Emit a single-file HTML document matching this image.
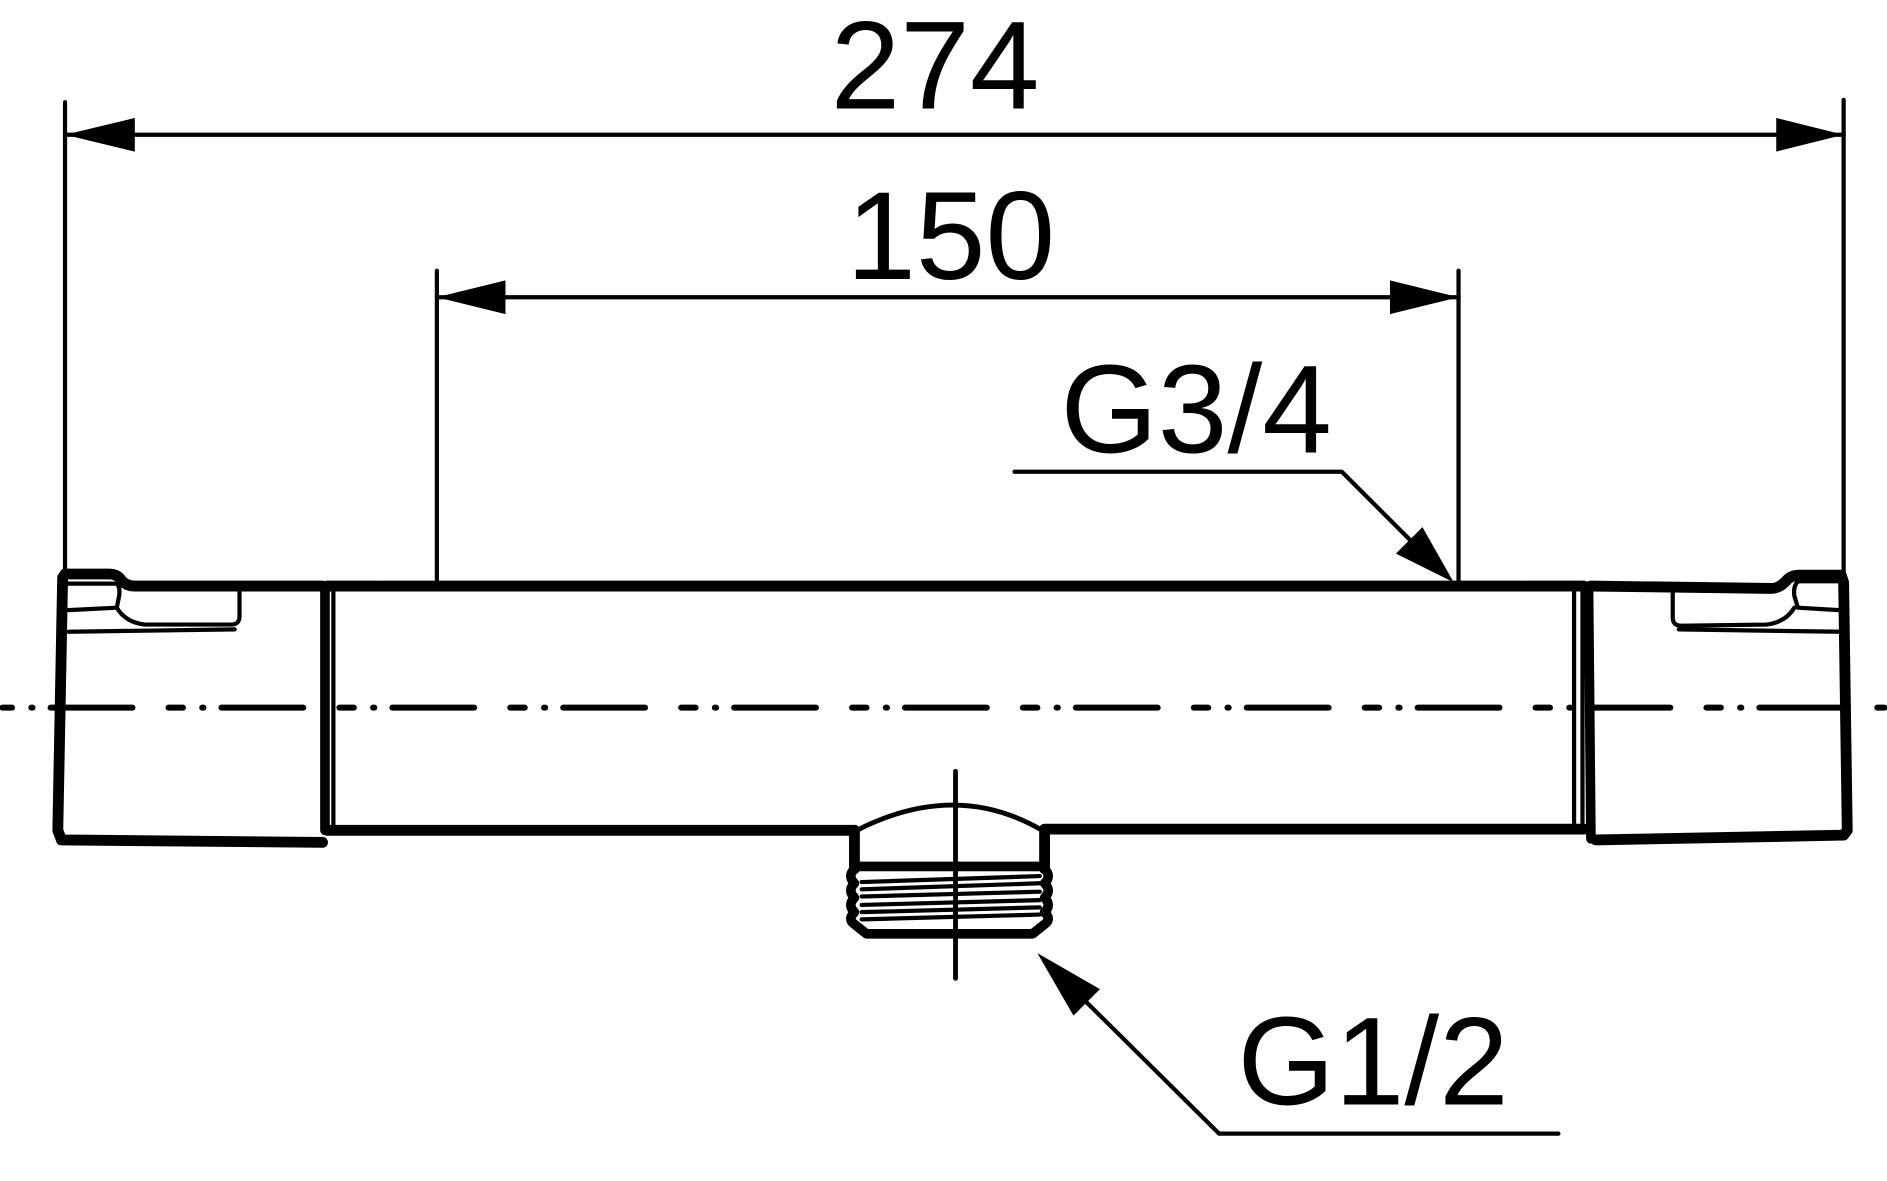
<!DOCTYPE html>
<html><head><meta charset="utf-8"><style>html,body{margin:0;padding:0;background:#fff}svg{display:block}</style></head>
<body>
<svg width="1887" height="1181" viewBox="0 0 1568 981.4" xmlns="http://www.w3.org/2000/svg" font-family="Liberation Sans, sans-serif">
<g stroke="#000" fill="none" stroke-linecap="round" stroke-linejoin="round">
<line x1="54" y1="85" x2="54" y2="478" stroke-width="3.5"/>
<line x1="1532" y1="83" x2="1532" y2="476" stroke-width="3.5"/>
<line x1="54" y1="112" x2="1532" y2="112" stroke-width="3.5"/>
<line x1="363" y1="225" x2="363" y2="486" stroke-width="3.5"/>
<line x1="1212" y1="225" x2="1212" y2="486" stroke-width="3.5"/>
<line x1="363" y1="247" x2="1212" y2="247" stroke-width="3.5"/>
<polyline points="843,392 1115,392 1185,462" stroke-width="3.5"/>
<polyline points="1295,942 1013,942 902,832" stroke-width="3.5"/>
<line x1="2" y1="588" x2="1566" y2="588" stroke-width="5" stroke-dasharray="68 30 12 16 1 15" stroke-dashoffset="-40"/>
<line x1="794" y1="641" x2="794" y2="813" stroke-width="4"/>
<line x1="272" y1="487" x2="1316" y2="487" stroke-width="9"/>
<line x1="272" y1="690" x2="710" y2="690" stroke-width="9"/>
<line x1="868" y1="689" x2="1316" y2="689" stroke-width="9"/>
<line x1="270" y1="487" x2="270" y2="690" stroke-width="8"/>
<line x1="277" y1="490" x2="277" y2="686" stroke-width="3.5"/>
<line x1="1308" y1="490" x2="1308" y2="686" stroke-width="3.5"/>
<line x1="1315" y1="487" x2="1315" y2="690" stroke-width="3.5"/>
<line x1="1320" y1="487" x2="1322" y2="697" stroke-width="8"/>
<path d="M268,487 L112,487 Q104,487 100,481 Q97,477 90,477 L54,477 L52,480 L48,690 L51,698 L268,700" stroke-width="9"/>
<path d="M57,485 L97,485 Q100,488 99,495 L97,505 L57,507" stroke-width="3.5"/>
<path d="M97,505 Q104,517 120,519 L192,519 Q199,519 199,512 L199,492" stroke-width="3.5"/>
<line x1="57" y1="525" x2="195" y2="523" stroke-width="3.5"/>
<path d="M1322,487 L1472,489 Q1478,489 1484,483 Q1488,478 1495,478 L1530,478 L1532,484 L1535,690 L1532,694 L1326,698" stroke-width="9"/>
<path d="M1528,483 L1494,483 Q1490,487 1491,495 L1494,505 L1528,507" stroke-width="3.5"/>
<path d="M1491,505 Q1484,517 1468,519 L1397,520 Q1390,520 1390,513 L1390,492" stroke-width="3.5"/>
<line x1="1530" y1="525" x2="1395" y2="523" stroke-width="3.5"/>
<path d="M712,690 Q794,648 866,690" stroke-width="4"/>
<line x1="710" y1="690" x2="710" y2="722" stroke-width="9"/>
<line x1="868" y1="690" x2="868" y2="722" stroke-width="9"/>
<line x1="710" y1="720" x2="868" y2="720" stroke-width="8"/>
<path d="M710,722 Q704,728 710,734 Q704,740 710,746 Q704,752 710,758 Q704,764 710,768 L720,776 L858,776 L868,768 Q874,764 868,758 Q874,752 868,746 Q874,740 868,734 Q874,728 868,722" stroke-width="8"/>
<line x1="716" y1="733" x2="864" y2="728" stroke-width="3.5"/>
<line x1="716" y1="739" x2="864" y2="734" stroke-width="3.5"/>
<line x1="716" y1="745" x2="864" y2="741" stroke-width="3.5"/>
<line x1="716" y1="752" x2="864" y2="748" stroke-width="3.5"/>
<line x1="716" y1="758" x2="864" y2="754" stroke-width="3.5"/>
<line x1="716" y1="764" x2="864" y2="760" stroke-width="3.5"/>
</g>
<g fill="#000">
<polygon points="54,112 112,98 112,126"/>
<polygon points="1532,112 1476,98 1476,126"/>
<polygon points="363,247 420,233 420,261"/>
<polygon points="1212,247 1155,233 1155,261"/>
<polygon points="1208,484 1160,460 1182,438"/>
<polygon points="862,792 914,822 892,844"/>
</g>
<g font-size="104" fill="#000">
<text x="777" y="90" text-anchor="middle">274</text>
<text x="790" y="232" text-anchor="middle">150</text>
<text x="994" y="376" text-anchor="middle">G3/4</text>
<text x="1141" y="918" text-anchor="middle">G1/2</text>
</g>
</svg>
</body></html>
